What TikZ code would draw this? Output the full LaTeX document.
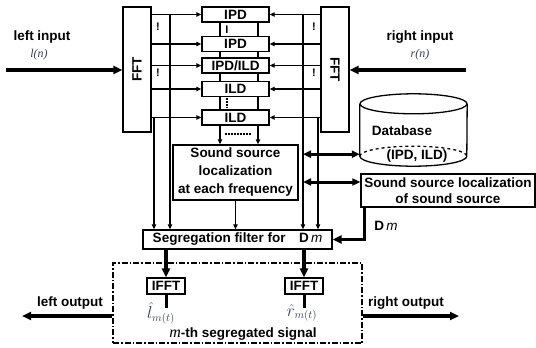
\documentclass[tikz,border=0pt]{standalone}
\usepackage{fontspec}
\setmainfont{Liberation Serif}
\setsansfont{Liberation Sans}
\usetikzlibrary{arrows.meta,positioning}
\definecolor{sigblue}{RGB}{60,60,100}

\begin{document}
\begin{tikzpicture}[x=1pt,y=-1pt]
  \tikzstyle{blk}=[draw,line width=1.4pt,fill=white,inner sep=0pt,align=center,
    font=\fontsize{13.5}{16}\selectfont\sffamily\bfseries]
  \tikzstyle{par}=[blk,minimum width=67pt,minimum height=15pt]
  \tikzstyle{fftbox}=[blk,minimum width=125pt,minimum height=28pt]
  \tikzstyle{ifft}=[blk,minimum width=38pt,minimum height=16pt]
  \tikzstyle{lbl}=[inner sep=0pt,font=\fontsize{13.5}{16}\selectfont\sffamily\bfseries]
  \tikzstyle{sig}=[inner sep=0pt,text=sigblue,font=\fontsize{12}{14}\selectfont\itshape]
  \tikzstyle{dotmk}=[inner sep=0pt,font=\fontsize{11}{11}\selectfont\sffamily\bfseries]
  \tikzstyle{ln}=[line width=1.3pt]
  \tikzstyle{dts}=[line width=1.5pt,dash pattern=on 1.5pt off 1.5pt]
  \tikzstyle{f}=[-{Triangle[length=5pt,width=4.5pt]},line width=1.3pt]
  \tikzstyle{big}=[-{Triangle[length=9pt,width=8pt]},line width=3.5pt]
  \tikzstyle{dbl}=[{Triangle[length=8pt,width=7pt]}-{Triangle[length=8pt,width=7pt]},line width=3pt]

  \useasboundingbox (0,0) rectangle (536,348);

  % columns of the taps
  \coordinate (lB) at (154,0);
  \coordinate (lA) at (170,0);
  \coordinate (rA) at (303,0);
  \coordinate (rB) at (318,0);
  \coordinate (cA) at (220,0);
  \coordinate (cB) at (258,0);

  \node[fftbox,rotate=90] (fftL) at (137,69.5) {FFT};
  \node[fftbox,rotate=-90] (fftR) at (335,69.5) {FFT};

  \node[par] (ipd1)   at (235.5,14.5)  {IPD};
  \node[par] (ipd2)   at (235.5,44)    {IPD};
  \node[par] (ipdild) at (235.5,65.5)  {IPD/ILD};
  \node[par] (ild1)   at (235.5,89)    {ILD};
  \node[par] (ild2)   at (235.5,117.5) {ILD};

  \node[blk,minimum width=125pt,minimum height=55pt,font=\fontsize{13.5}{18}\selectfont\sffamily\bfseries]
    (ssl) at (235.5,172.5) {Sound source\\localization\\at each frequency};
  \node[blk,minimum width=189pt,minimum height=19pt] (seg) at (237.5,239.5)
    {Segregation filter for\quad D\,{\mdseries\itshape m}};
  \node[blk,minimum width=174pt,minimum height=33pt] (loc) at (448,190.5)
    {Sound source localization\\of sound source};

  % database
  \node[minimum width=107pt,minimum height=52pt,inner sep=0pt] (db) at (413.5,130) {};
  \draw[ln,fill=white] (db.north west) -- (db.south west)
    arc[start angle=180,end angle=360,x radius=53.5pt,y radius=10pt] -- (db.north east);
  \draw[ln,dashed] (db.south west) arc[start angle=180,end angle=0,x radius=53.5pt,y radius=10pt];
  \draw[ln,fill=white] (db.north) ellipse[x radius=53.5pt,y radius=10pt];
  \node[lbl] (dbname) at (402,131) {Database};
  \node[lbl] (dbkey) at (417,156) {(IPD, ILD)};

  % inputs
  \coordinate (lin) at (6,70);
  \coordinate (rin) at (466,70);
  \draw[big] (lin) -- (lin -| fftL.north);
  \draw[big] (rin) -- (rin -| fftR.north);
  \node[lbl] (lintxt) at (42,37) {left input};
  \node[sig] (ln) at (39,55) {\textit{l}(\textit{n})};
  \node[lbl] (rintxt) at (420,37) {right input};
  \node[sig] (rn) at (420,55) {\textit{r}(\textit{n})};

  \foreach \b in {ipd1,ipd2,ipdild,ild1,ild2}{
    \draw[f] (\b -| fftL.south) -- (\b.west);
    \draw[f] (\b -| fftR.south) -- (\b.east);
  }
  \foreach \a/\b in {ipd1/ipd2,ipd2/ipdild,ipdild/ild1,ild1/ild2}{
    \draw[ln] (\a.south -| cA) -- (\b.north -| cA);
    \draw[ln] (\a.south -| cB) -- (\b.north -| cB);
  }
  \draw[f] (ild2.south -| cA) -- (ssl.north -| cA);
  \draw[f] (ild2.south -| cB) -- (ssl.north -| cB);
  \coordinate (dotsL) at (225,134);
  \coordinate (dotsR) at (251,134);
  \draw[dts] (dotsL) -- (dotsR);
  \coordinate (vdotT) at (227,98);
  \coordinate (vdotB) at (227,108);
  \draw[dts] (vdotT) -- (vdotB);

  \node[dotmk] (mk1) at (227,30) {I};
  \node[dotmk] (mk3) at (158,27) {!};
  \node[dotmk] (mk4) at (158,73) {!};
  \node[dotmk] (mk5) at (314,27) {!};
  \node[dotmk] (mk6) at (314,73) {!};

  % taps down to the filter
  \draw[f] (ipd1 -| lA) -- (seg.north -| lA);
  \draw[f] (ild2 -| lB) -- (seg.north -| lB);
  \draw[f] (ipd1 -| rA) -- (seg.north -| rA);
  \draw[f] (ild2 -| rB) -- (seg.north -| rB);
  \draw[f] (ssl.south) -- (ssl.south |- seg.north);

  \coordinate (dbIn) at ([yshift=2pt]db.south west);
  \coordinate (locIn) at ([yshift=8.5pt]loc.west);
  \draw[dbl] (dbIn -| rA) -- (dbIn);
  \draw[dbl] (locIn -| rA) -- (locIn);

  \draw[big] ([xshift=4pt]loc.south west) |- (seg.east);
  \node[lbl] (dm) at (386,226) {D\,{\mdseries\itshape m}};

  % separated output
  \node[draw,line width=1.4pt,dash pattern=on 6pt off 2pt on 1.5pt off 2pt,
    minimum width=249pt,minimum height=80pt] (grp) at (237.5,303) {};
  \node[ifft] (ifftL) at (166,286) {IFFT};
  \node[ifft] (ifftR) at (304,286) {IFFT};
  \draw[big] (seg.south -| ifftL) -- (ifftL.north);
  \draw[big] (seg.south -| ifftR) -- (ifftR.north);
  \node[sig,font=\fontsize{16}{16}\selectfont] (lhat) at (161,313) {$\hat{l}_{m(t)}$};
  \node[sig,font=\fontsize{16}{16}\selectfont] (rhat) at (302,313) {$\hat{r}_{m(t)}$};
  \draw[line width=3pt] (ifftL.south) -- ++(0,13);
  \draw[line width=3pt] (ifftR.south) -- ++(0,13);
  \node[lbl] (mth) at (243,334) {{\rmfamily\mdseries\itshape\fontsize{16}{16}\selectfont m}-th segregated signal};

  \coordinate (lout) at (22,316);
  \coordinate (rout) at (459,316);
  \draw[big] (lout -| grp.west) -- (lout);
  \draw[big] (rout -| grp.east) -- (rout);
  \node[lbl] (louttxt) at (70,303) {left output};
  \node[lbl] (routtxt) at (406,303) {right output};
\end{tikzpicture}
\end{document}
